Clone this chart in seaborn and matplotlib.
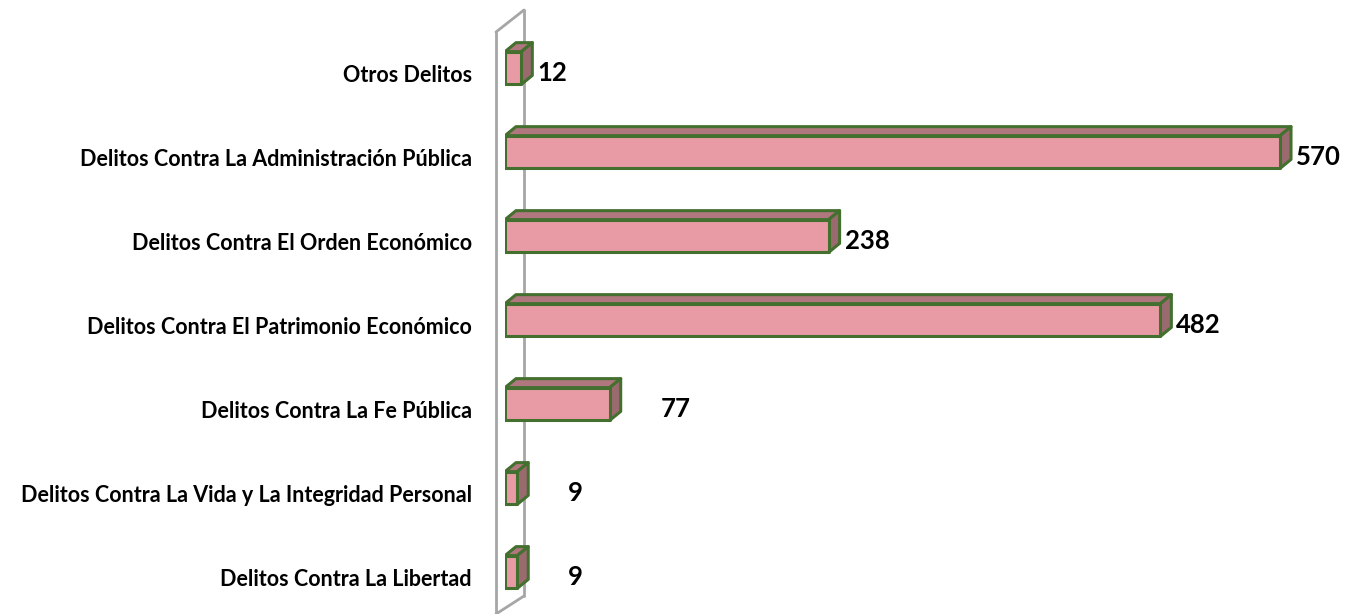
import matplotlib
matplotlib.use('Agg')
import matplotlib.pyplot as plt
import seaborn as sns
from matplotlib.lines import Line2D
from matplotlib.patches import Polygon
import matplotlib.transforms as mtransforms

# ================= datos =================
categorias = ['Otros Delitos',
              'Delitos Contra La Administración Pública',
              'Delitos Contra El Orden Económico',
              'Delitos Contra El Patrimonio Económico',
              'Delitos Contra La Fe Pública',
              'Delitos Contra La Vida y La Integridad Personal',
              'Delitos Contra La Libertad']
valores = [12, 570, 238, 482, 77, 9, 9]

# ================= estilo =================
COLOR_FRENTE = '#E89BA4'
COLOR_TECHO = '#B0787E'
COLOR_LADO = '#9A6A6F'
COLOR_BORDE = '#44702F'
COLOR_PARED = '#A6A6A6'

sns.set_theme(style='white')
plt.rcParams['font.family'] = ['Lato', 'DejaVu Sans']

W, H = 1356, 614
fig = plt.figure(figsize=(W / 100, H / 100), dpi=100)
ax = fig.add_axes([505 / W, 0, 843 / W, 1])
ax.patch.set_alpha(0)

sns.barplot(x=valores, y=categorias, orient='h', color=COLOR_FRENTE,
            edgecolor=COLOR_BORDE, linewidth=2.2, width=0.39, saturation=1, ax=ax)

ax.set_xlim(0, 620)
ax.set_ylim(6.5, -0.81)
for s in ax.spines.values():
    s.set_visible(False)
ax.set_xticks([])
ax.set_xlabel('')
ax.set_ylabel('')

# profundidad 3D (px -> datos)
px_x = 620 / 843
px_y = (6.5 + 0.81) / H
dx = 11 * px_x
dy = 9 * px_y
for p in ax.patches:
    x0, y0, w, h = p.get_x(), p.get_y(), p.get_width(), p.get_height()
    techo = Polygon([(x0, y0), (x0 + w, y0), (x0 + w + dx, y0 - dy), (x0 + dx, y0 - dy)],
                    closed=True, facecolor=COLOR_TECHO, edgecolor=COLOR_BORDE, linewidth=2.2,
                    joinstyle='round', zorder=3)
    lado = Polygon([(x0 + w, y0), (x0 + w, y0 + h), (x0 + w + dx, y0 + h - dy), (x0 + w + dx, y0 - dy)],
                   closed=True, facecolor=COLOR_LADO, edgecolor=COLOR_BORDE, linewidth=2.2,
                   joinstyle='round', zorder=3)
    ax.add_patch(techo)
    ax.add_patch(lado)
    p.set_joinstyle('round')
    p.set_zorder(4)

# pared lateral (detras de las barras)
pared = [((496, 32), (496, 614)), ((496, 32), (524, 10)), ((524, 10), (524, 596)),
         ((524, 596), (496, 614))]
for (xa, ya), (xb, yb) in pared:
    ax.add_line(Line2D([xa / W, xb / W], [1 - ya / H, 1 - yb / H], transform=fig.transFigure,
                       color=COLOR_PARED, linewidth=2, clip_on=False, zorder=0))

# etiquetas de categoria
ax.tick_params(axis='y', length=0, pad=24)
desplazar = mtransforms.ScaledTranslation(0, -5 / 100, fig.dpi_scale_trans)
for lab in ax.get_yticklabels():
    lab.set_fontweight('bold')
    lab.set_fontsize(15.5)
    lab.set_color('black')
    lab.set_transform(lab.get_transform() + desplazar)

# etiquetas de valor
nudge_px = [0, 0, 0, 0, 35, 35, 35]
for i, v in enumerate(valores):
    ax.annotate(str(v), xy=(v + dx, i), xytext=((5 + nudge_px[i]) * 0.72, -5 * 0.72),
                textcoords='offset points', ha='left', va='center',
                fontsize=18.5, fontweight='bold', color='black', annotation_clip=False)

fig.savefig('out.png', dpi=100)
